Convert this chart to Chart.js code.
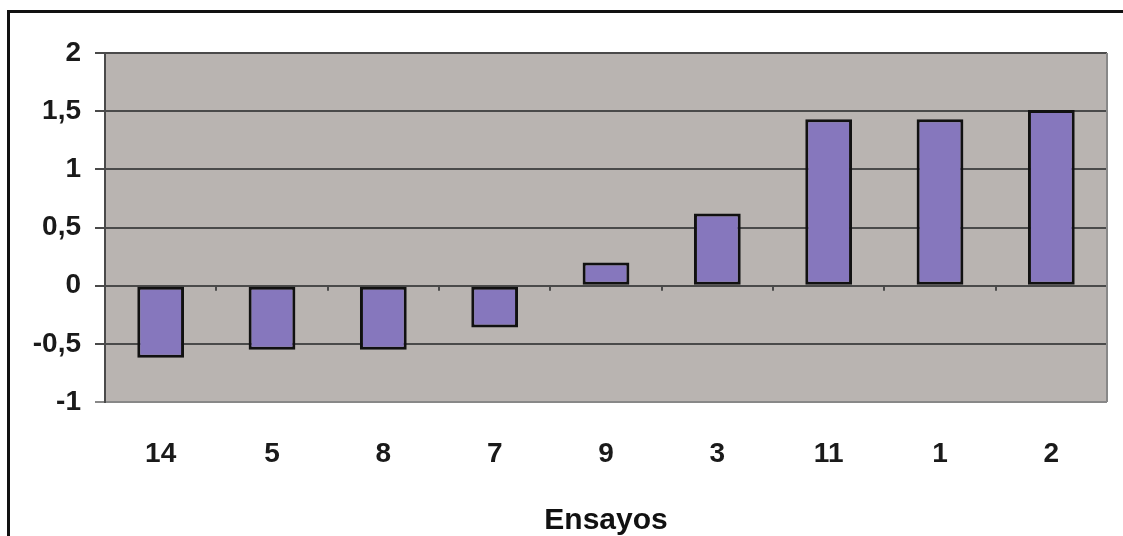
<!DOCTYPE html>
<html>
<head>
<meta charset="utf-8">
<script src="https://cdn.jsdelivr.net/npm/chart.js@4"></script>
<style>
    html, body { margin: 0; padding: 0; background: #fff; }
    #wrap { position: relative; width: 1123px; height: 536px; overflow: hidden; }
    #frame { position: absolute; left: 7px; top: 10px; width: 1200px; height: 600px;
             border-left: 3px solid #111; border-top: 3px solid #111; }
    canvas { position: absolute; left: 0; top: 0; }
</style>
</head>
<body>
<div id="wrap">
    <div id="frame"></div>
    <canvas id="chart" width="1123" height="536"></canvas>
</div>
<script>
// Ensayos ordered as in the picture
const ensayos = ['14', '5', '8', '7', '9', '3', '11', '1', '2'];
const efectos = [-0.62, -0.55, -0.55, -0.36, 0.2, 0.62, 1.43, 1.43, 1.51];
const yMin = -1;
const yMax = 2;
const yStep = 0.5;

const plotBg = '#b9b4b1';
const gridColor = '#4a4a4a';
const labelFont = '"Liberation Sans", Arial, sans-serif';

// Grey plot area, right border and the small category ticks on the zero line
const plotArea = {
    id: 'plotArea',
    beforeDraw(chart) {
        const { ctx, chartArea: a } = chart;
        ctx.save();
        ctx.fillStyle = plotBg;
        ctx.fillRect(a.left, a.top, a.right - a.left, a.bottom - a.top);
        ctx.restore();
    },
    afterDatasetsDraw(chart) {
        const { ctx, chartArea: a, scales } = chart;
        const y0 = scales.y.getPixelForValue(0);
        const half = (scales.x.width / ensayos.length) / 2;
        ctx.save();
        ctx.strokeStyle = gridColor;
        ctx.lineWidth = 2;
        ctx.beginPath();
        for (let i = 0; i <= ensayos.length; i++) {
            const x = Math.round(scales.x.getPixelForValue(Math.min(i, ensayos.length - 1)) + (i < ensayos.length ? -half : half));
            ctx.moveTo(x, y0);
            ctx.lineTo(x, y0 + 5);
        }
        ctx.stroke();
        ctx.strokeStyle = '#888';
        ctx.beginPath();
        ctx.moveTo(a.right, a.top);
        ctx.lineTo(a.right, a.bottom);
        ctx.stroke();
        ctx.restore();
    }
};

const ctx = document.getElementById('chart').getContext('2d');
new Chart(ctx, {
    type: 'bar',
    data: {
        labels: ensayos,
        datasets: [{
            data: efectos,
            backgroundColor: '#8677bd',
            borderColor: '#111',
            borderWidth: 3,
            borderSkipped: false,
            categoryPercentage: 1,
            barPercentage: 0.42
        }]
    },
    options: {
        responsive: false,
        animation: false,
        layout: { padding: { left: 9, right: 16, top: 53, bottom: 0 } },
        plugins: {
            legend: { display: false },
            tooltip: { enabled: false }
        },
        scales: {
            x: {
                grid: { display: false },
                border: { display: false },
                ticks: {
                    color: '#1a1a1a',
                    padding: 27,
                    font: { family: labelFont, size: 28, weight: 'bold' }
                },
                title: {
                    display: true,
                    text: 'Ensayos',
                    color: '#111',
                    padding: { top: 0, bottom: 0 },
                    font: { family: labelFont, size: 30, weight: 'bold', lineHeight: 1 }
                },
                afterFit(scale) { scale.height = 134; }
            },
            y: {
                min: yMin,
                max: yMax,
                ticks: {
                    stepSize: yStep,
                    color: '#1a1a1a',
                    padding: 14,
                    font: { family: labelFont, size: 28, weight: 'bold' },
                    callback: v => String(v).replace('.', ',')
                },
                grid: {
                    color: ctx => ctx.tick && ctx.tick.value === yMin ? '#888' : gridColor,
                    lineWidth: 2,
                    tickLength: 10
                },
                border: { color: gridColor, width: 2 },
                afterFit(scale) { scale.width = 96; }
            }
        }
    },
    plugins: [plotArea]
});
</script>
</body>
</html>
